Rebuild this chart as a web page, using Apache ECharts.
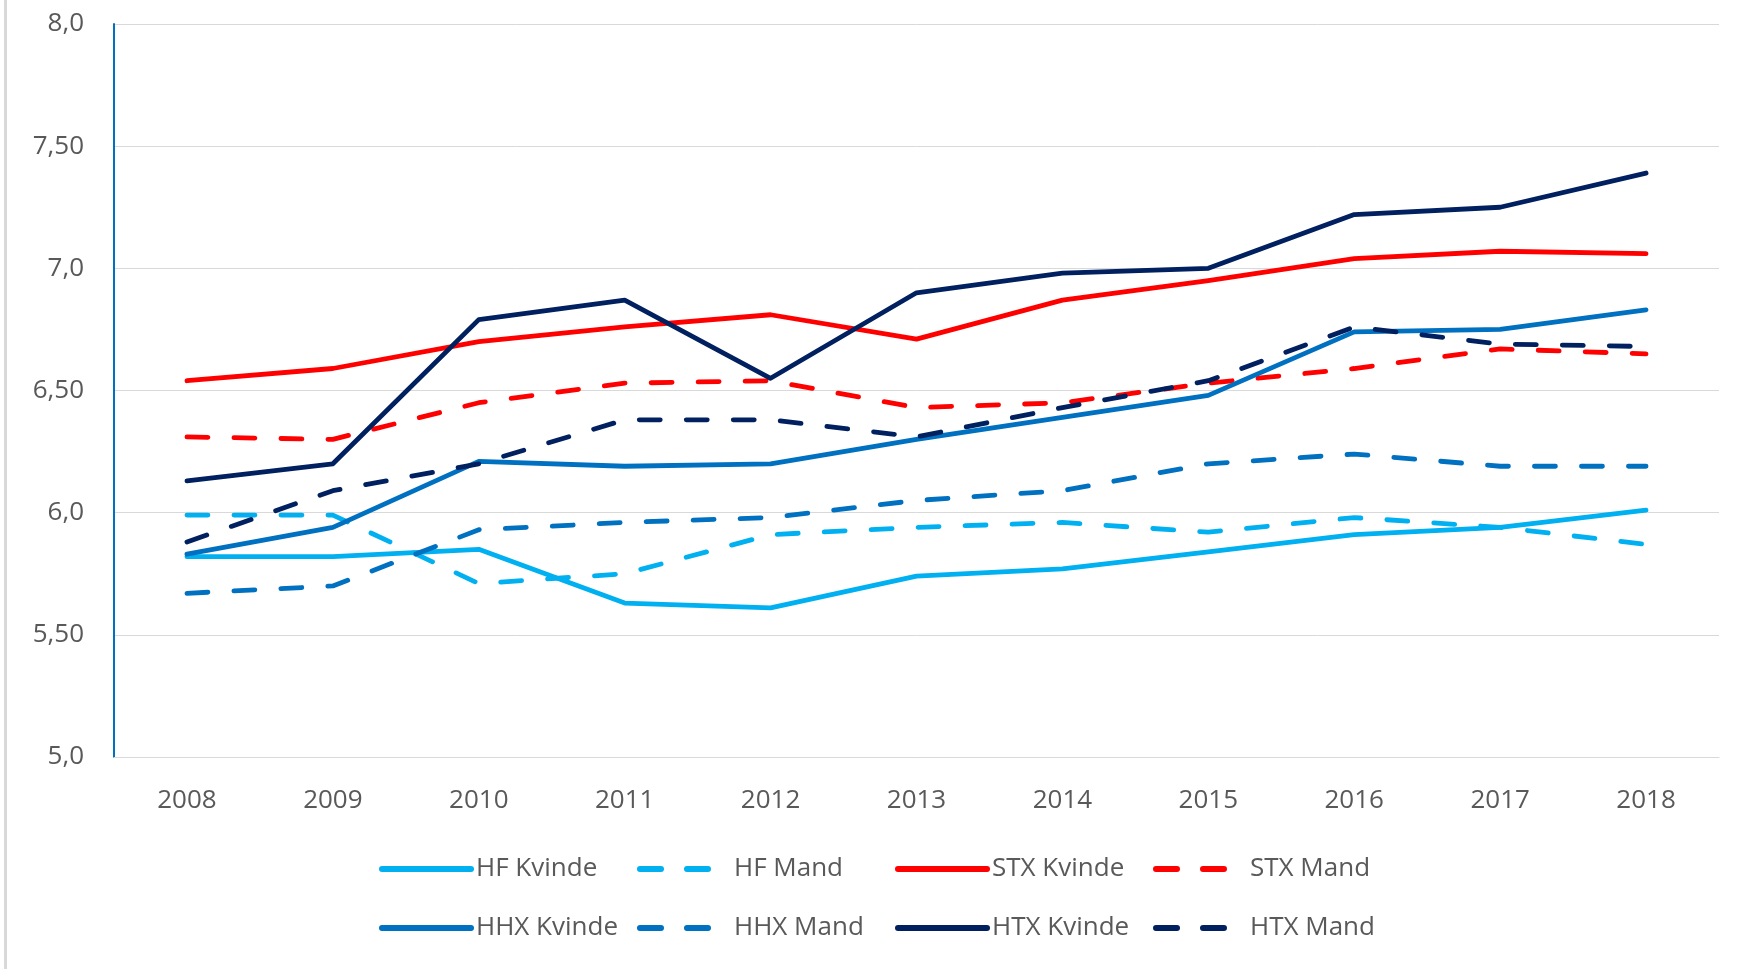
<!DOCTYPE html>
<html>
<head>
<meta charset="utf-8">
<script src="https://cdn.jsdelivr.net/npm/echarts@6/dist/echarts.min.js"></script>
<style>
  html, body { margin: 0; padding: 0; background: #fff; }
  #chart { width: 1746px; height: 969px; }
</style>
</head>
<body>
<div id="chart"></div>
<script>
const years = ["2008", "2009", "2010", "2011", "2012", "2013", "2014", "2015", "2016", "2017", "2018"];
const yTickLabels = ["5,0", "5,50", "6,0", "6,50", "7,0", "7,50", "8,0"];

const hfKvinde = [5.82, 5.82, 5.85, 5.63, 5.61, 5.74, 5.77, 5.84, 5.91, 5.94, 6.01];
const hfMand = [5.99, 5.99, 5.71, 5.75, 5.91, 5.94, 5.96, 5.92, 5.98, 5.94, 5.87];
const stxKvinde = [6.54, 6.59, 6.70, 6.76, 6.81, 6.71, 6.87, 6.95, 7.04, 7.07, 7.06];
const stxMand = [6.31, 6.30, 6.45, 6.53, 6.54, 6.43, 6.45, 6.53, 6.59, 6.67, 6.65];
const hhxKvinde = [5.83, 5.94, 6.21, 6.19, 6.20, 6.30, 6.39, 6.48, 6.74, 6.75, 6.83];
const hhxMand = [5.67, 5.70, 5.93, 5.96, 5.98, 6.05, 6.09, 6.20, 6.24, 6.19, 6.19];
const htxKvinde = [6.13, 6.20, 6.79, 6.87, 6.55, 6.90, 6.98, 7.00, 7.22, 7.25, 7.39];
const htxMand = [5.88, 6.09, 6.20, 6.38, 6.38, 6.31, 6.43, 6.54, 6.76, 6.69, 6.68];

const FONT = "Open Sans";
const TEXT = "#595959";
const DASH = [21, 26];

function makeLine(name, data, color, dashed) {
  return {
    name: name,
    type: "line",
    data: data,
    symbol: "none",
    itemStyle: { color: color },
    lineStyle: {
      color: color,
      width: 4.8,
      type: dashed ? DASH : "solid",
      cap: "round",
      join: "round",
    },
  };
}

const chart = echarts.init(document.getElementById("chart"));

// legende i to rækker, kolonnerne holdes på plads med fast tekstbredde
const legendBase = {
  left: 374,
  itemWidth: 89,
  itemHeight: 8,
  itemGap: 16,
  itemStyle: { opacity: 0 },
  lineStyle: { width: 6, cap: "round" },
  textStyle: {
    color: TEXT,
    fontFamily: FONT,
    fontSize: 26,
    width: 145,
    lineHeight: 30,
  },
};

const option = {
  animation: false,
  graphic: [
    {
      type: "rect",
      shape: { x: 4, y: 0, width: 3, height: 969 },
      style: { fill: "#d9d9d9" },
    },
  ],
  grid: { left: 114, right: 27, top: 24, bottom: 212 },
  legend: [
    Object.assign({}, legendBase, {
      top: 849,
      data: ["HF Kvinde", "HF Mand", "STX Kvinde", "STX Mand"],
    }),
    Object.assign({}, legendBase, {
      top: 908,
      data: ["HHX Kvinde", "HHX Mand", "HTX Kvinde", "HTX Mand"],
    }),
  ],
  xAxis: {
    type: "category",
    data: years,
    boundaryGap: true,
    axisTick: { show: false },
    axisLine: { lineStyle: { color: "#d9d9d9", width: 1 } },
    axisLabel: {
      color: TEXT,
      fontFamily: FONT,
      fontSize: 26,
      margin: 31,
    },
  },
  yAxis: {
    type: "value",
    min: 5,
    max: 8,
    interval: 0.5,
    axisLine: { show: true, lineStyle: { color: "#0070C0", width: 2 } },
    axisTick: { show: false },
    splitLine: { lineStyle: { color: "#d9d9d9", width: 1 } },
    axisLabel: {
      color: TEXT,
      fontFamily: FONT,
      fontSize: 26,
      margin: 30,
      formatter: function (v) {
        return yTickLabels[Math.round((v - 5) / 0.5)];
      },
    },
  },
  series: [
    makeLine("HF Kvinde", hfKvinde, "#00B0F0", false),
    makeLine("HF Mand", hfMand, "#00B0F0", true),
    makeLine("STX Kvinde", stxKvinde, "#FF0000", false),
    makeLine("STX Mand", stxMand, "#FF0000", true),
    makeLine("HHX Kvinde", hhxKvinde, "#0070C0", false),
    makeLine("HHX Mand", hhxMand, "#0070C0", true),
    makeLine("HTX Kvinde", htxKvinde, "#002060", false),
    makeLine("HTX Mand", htxMand, "#002060", true),
  ],
};

chart.setOption(option);
</script>
</body>
</html>
